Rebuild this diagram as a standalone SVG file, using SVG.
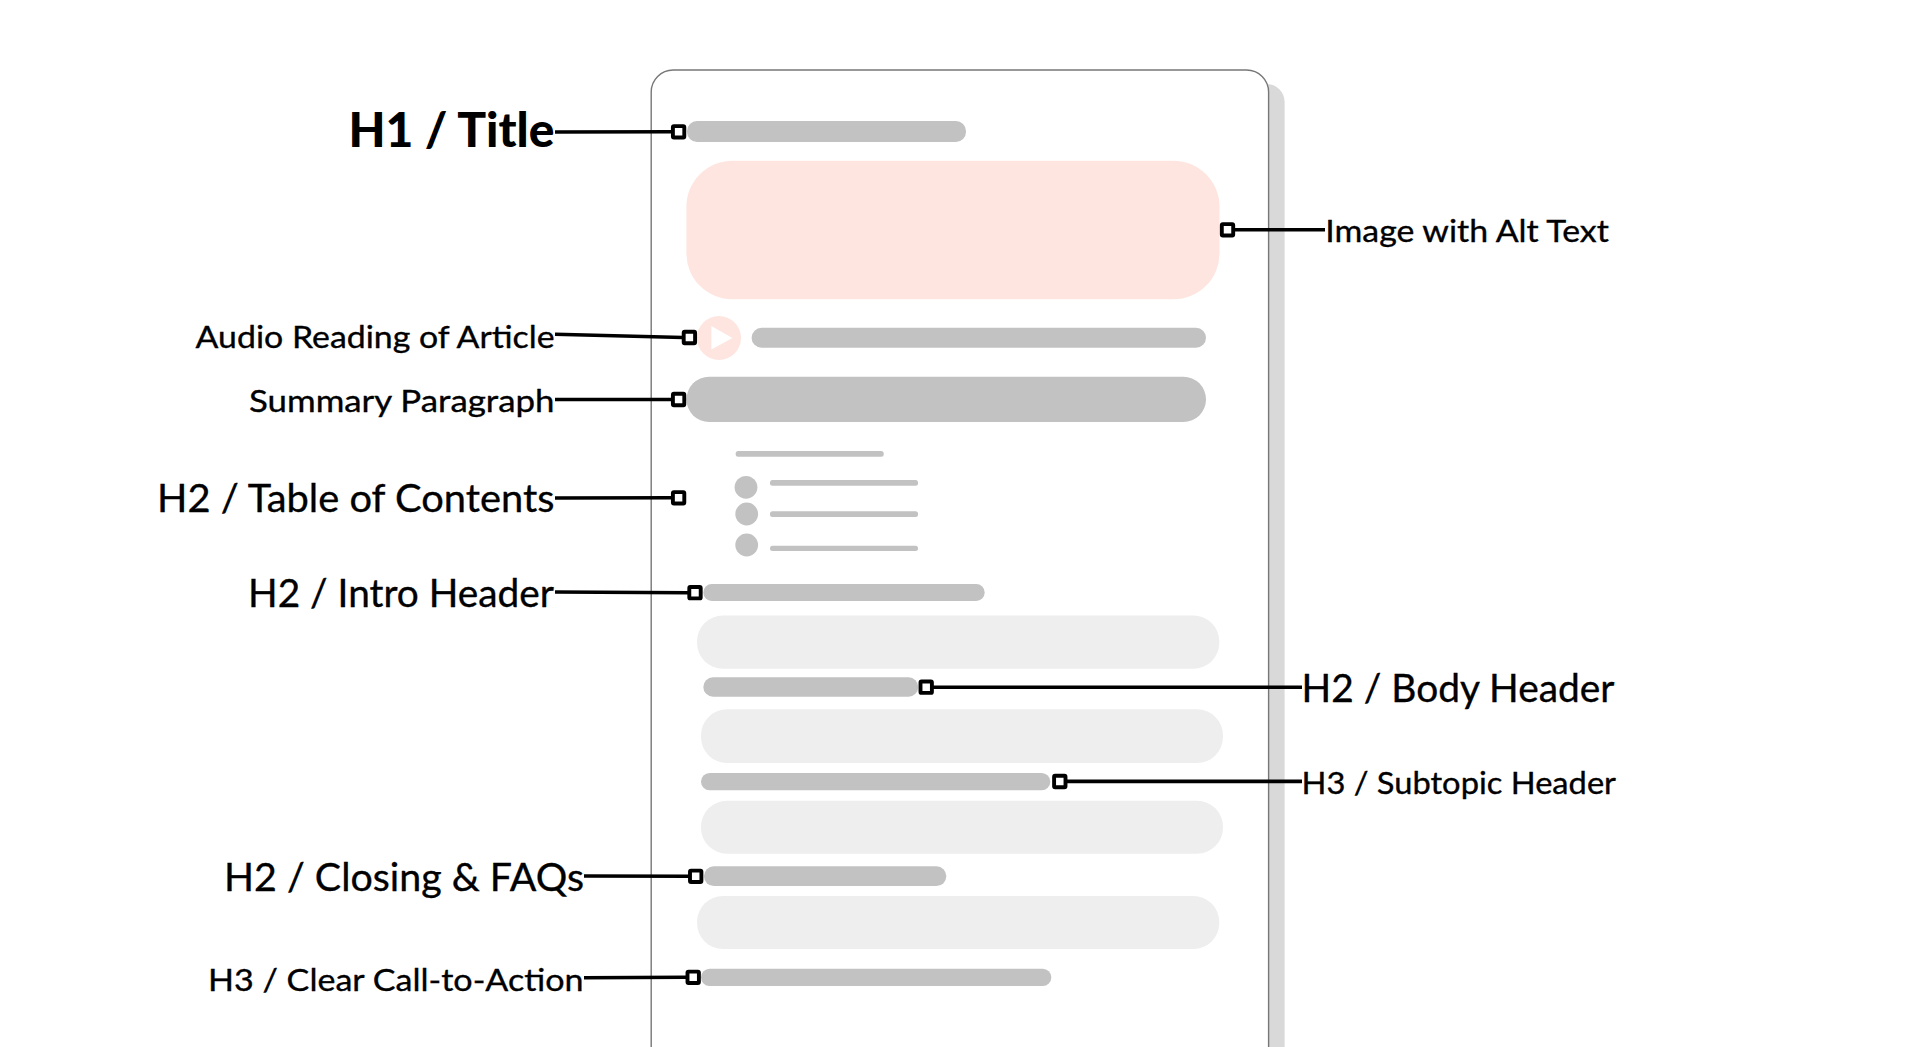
<svg xmlns="http://www.w3.org/2000/svg" width="1920" height="1047" viewBox="0 0 1920 1047">
<style>
.bar{fill:#c2c2c2}
.block{fill:#eeeeee}
.lbl{font-family:"Lato","Open Sans","Liberation Sans",sans-serif;fill:#000;stroke:#000;stroke-width:.35}
.s30{font-size:31px}
.s38{font-size:39px}
.h1{font-size:47px;font-weight:900;stroke-width:0}
.conn{fill:none;stroke:#000;stroke-width:3.6}
.mk{fill:#fff;stroke:#000;stroke-width:3.9}
</style>
<defs>
<rect id="mark" class="mk" x="-5.7" y="-5.7" width="11.4" height="11.4" rx="1"/>
</defs>
<rect width="1920" height="1047" fill="#fff"/>
<g id="page">
<rect x="700" y="84" width="584.6" height="1100" rx="18" fill="#d9d9d9"/>
<rect x="651.2" y="70" width="617.4" height="1100" rx="22" fill="#fff" stroke="#777" stroke-width="1.4"/>
</g>
<g id="title-bar"><rect class="bar" x="687" y="121" width="279" height="21" rx="10"/></g>
<g id="hero-image"><rect x="686.4" y="160.7" width="533.1" height="138.6" rx="46" fill="#fee5df"/></g>
<g id="audio-player">
<circle cx="719" cy="338" r="22" fill="#fee5df"/>
<polygon points="711.4,326 732.4,338 711.4,349.5" fill="#fff"/>
<rect class="bar" x="751.6" y="327.7" width="454.4" height="20" rx="10"/>
</g>
<g id="summary-paragraph"><rect class="bar" x="686.5" y="376.7" width="519.5" height="45.3" rx="22.6"/></g>
<g id="table-of-contents">
<rect class="bar" x="735.7" y="451" width="148" height="5.7" rx="2.5"/>
<circle class="bar" cx="746" cy="487.3" r="11.4"/>
<circle class="bar" cx="746.7" cy="514" r="11.4"/>
<circle class="bar" cx="746.7" cy="545" r="11.4"/>
<rect class="bar" x="770" y="480" width="148" height="5.7" rx="2.5"/>
<rect class="bar" x="770" y="511.3" width="148" height="5.7" rx="2.5"/>
<rect class="bar" x="770" y="545.7" width="148" height="5.3" rx="2.5"/>
</g>
<g id="intro-header"><rect class="bar" x="703.3" y="584" width="281.4" height="17" rx="8.5"/></g>
<g id="intro-text"><rect class="block" x="697" y="615.5" width="522.3" height="53.3" rx="26"/></g>
<g id="body-header"><rect class="bar" x="703.3" y="677.3" width="215" height="19.4" rx="9.7"/></g>
<g id="body-text"><rect class="block" x="701" y="709.3" width="522" height="53.7" rx="26"/></g>
<g id="subtopic-header"><rect class="bar" x="701" y="773" width="349.3" height="17.3" rx="8.6"/></g>
<g id="subtopic-text"><rect class="block" x="701" y="800.7" width="522" height="53" rx="26"/></g>
<g id="closing-header"><rect class="bar" x="704" y="866.3" width="242.3" height="19.7" rx="9.8"/></g>
<g id="closing-text"><rect class="block" x="697" y="896" width="522.3" height="53" rx="26"/></g>
<g id="cta-bar"><rect class="bar" x="701" y="968.7" width="350.3" height="17.3" rx="8.6"/></g>
<g id="connectors">
<line class="conn" x1="555" y1="132" x2="672" y2="131.8"/>
<line class="conn" x1="555" y1="334.3" x2="683" y2="337.5"/>
<line class="conn" x1="555" y1="399.5" x2="672" y2="399.5"/>
<line class="conn" x1="555" y1="498" x2="672" y2="497.8"/>
<line class="conn" x1="555" y1="592" x2="688" y2="592.7"/>
<line class="conn" x1="584" y1="876" x2="689" y2="876.3"/>
<line class="conn" x1="584" y1="977.7" x2="686" y2="977.3"/>
<line class="conn" x1="1234" y1="229.7" x2="1325" y2="229.7"/>
<line class="conn" x1="933" y1="687.2" x2="1302" y2="687.2"/>
<line class="conn" x1="1066" y1="781.4" x2="1302" y2="781.4"/>
<use href="#mark" x="678.6" y="131.8"/>
<use href="#mark" x="689.4" y="337.5"/>
<use href="#mark" x="678.6" y="399.5"/>
<use href="#mark" x="678.6" y="497.8"/>
<use href="#mark" x="695" y="592.7"/>
<use href="#mark" x="695.7" y="876.3"/>
<use href="#mark" x="693.2" y="977.3"/>
<use href="#mark" x="1227.5" y="229.8"/>
<use href="#mark" x="926.2" y="687.2"/>
<use href="#mark" x="1059.8" y="781.5"/>
</g>
<g id="label-h1-title"><text class="lbl h1" x="348.5" y="146.7" textLength="206" lengthAdjust="spacingAndGlyphs">H1 / Title</text></g>
<g id="label-audio"><text class="lbl s30" x="195.6" y="347.7" textLength="359" lengthAdjust="spacingAndGlyphs">Audio Reading of Article</text></g>
<g id="label-summary"><text class="lbl s30" x="249" y="411.7" textLength="305.5" lengthAdjust="spacingAndGlyphs">Summary Paragraph</text></g>
<g id="label-toc"><text class="lbl s38" x="157" y="511.7" textLength="397.5" lengthAdjust="spacingAndGlyphs">H2 / Table of Contents</text></g>
<g id="label-intro"><text class="lbl s38" x="248" y="606.7" textLength="306" lengthAdjust="spacingAndGlyphs">H2 / Intro Header</text></g>
<g id="label-closing"><text class="lbl s38" x="224" y="890.7" textLength="360" lengthAdjust="spacingAndGlyphs">H2 / Closing &amp; FAQs</text></g>
<g id="label-cta"><text class="lbl s30" x="208" y="991" textLength="375.5" lengthAdjust="spacingAndGlyphs">H3 / Clear Call-to-Action</text></g>
<g id="label-image"><text class="lbl s30" x="1325.3" y="242" textLength="283.5" lengthAdjust="spacingAndGlyphs">Image with Alt Text</text></g>
<g id="label-body"><text class="lbl s38" x="1301.5" y="701.7" textLength="313" lengthAdjust="spacingAndGlyphs">H2 / Body Header</text></g>
<g id="label-subtopic"><text class="lbl s30" x="1301.5" y="794.3" textLength="314.5" lengthAdjust="spacingAndGlyphs">H3 / Subtopic Header</text></g>
</svg>
